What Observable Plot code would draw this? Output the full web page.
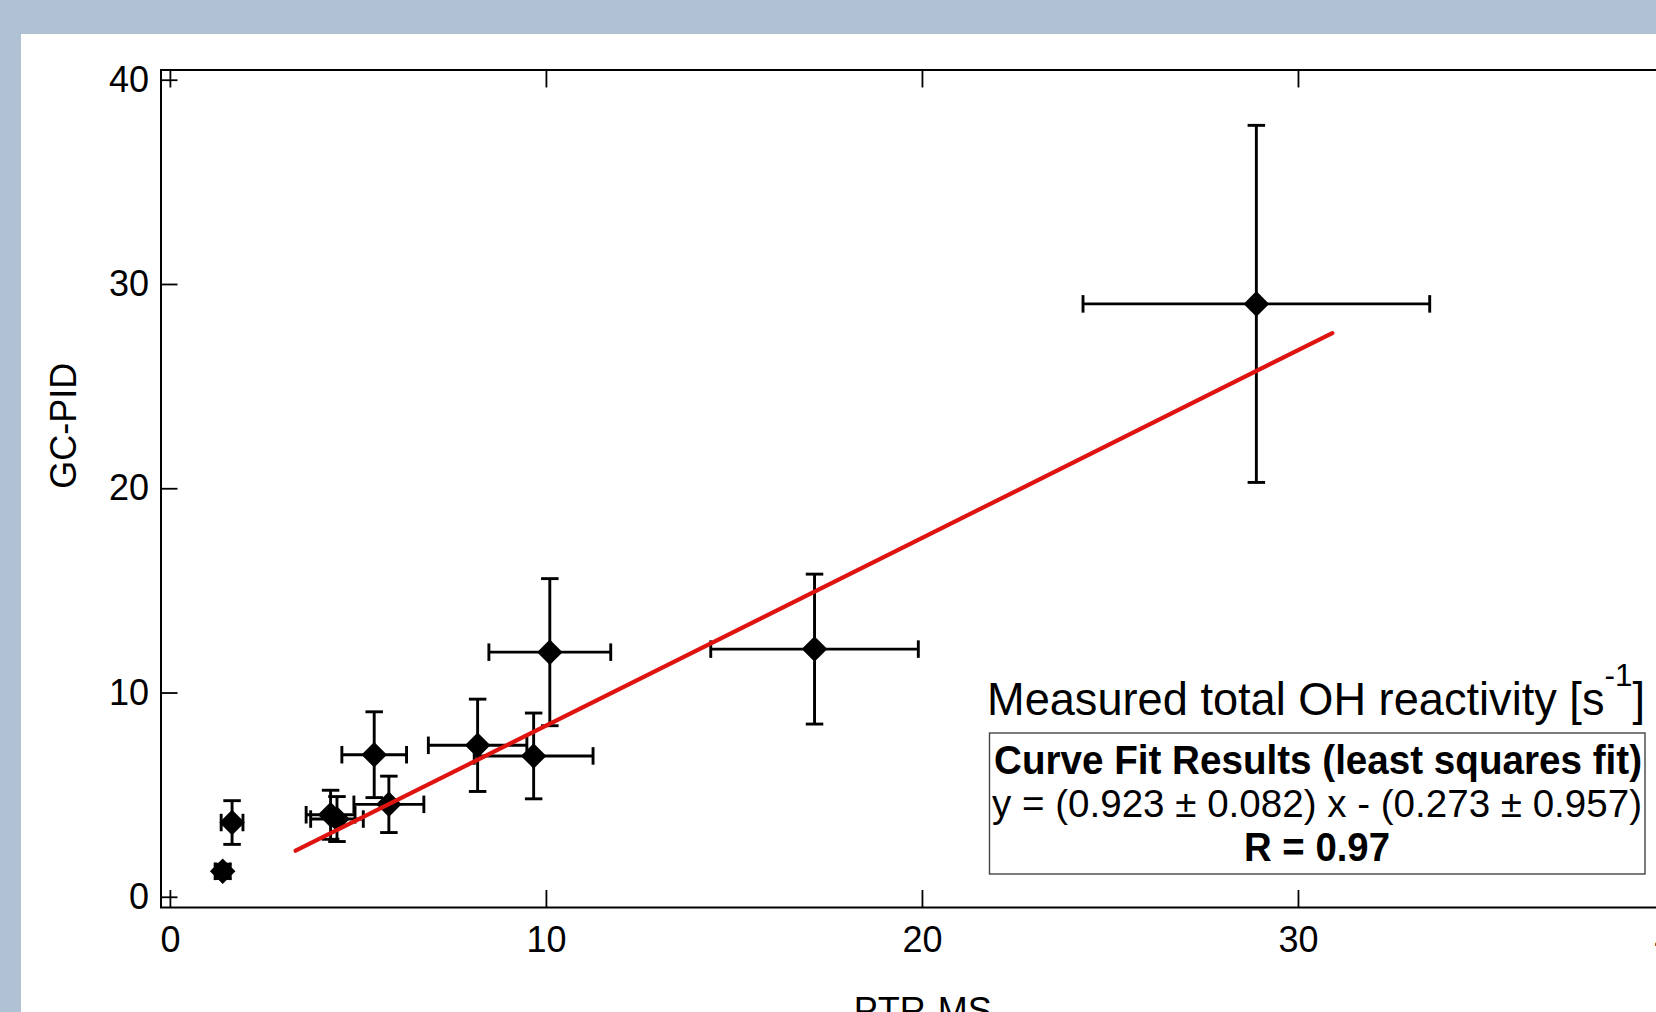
<!DOCTYPE html>
<html><head><meta charset="utf-8">
<script src="https://cdn.jsdelivr.net/npm/d3@7"></script>
<script src="https://cdn.jsdelivr.net/npm/@observablehq/plot@0.6"></script>
<style>
html,body{margin:0;padding:0;width:1656px;height:1012px;overflow:hidden;background:#b0c1d4;}
#panel{position:absolute;left:21px;top:34px;right:0;bottom:0;background:#fff;}
#chart{position:absolute;left:0;top:0;width:1700px;height:1012px;}
</style></head><body>
<div id="panel"></div>
<div id="chart"></div>
<script>
// Data
const ptrms    = [1.39, 1.64, 4.26, 4.43, 5.81, 5.42, 8.17, 9.66, 10.09, 17.13, 28.88];
const gcpid    = [1.27, 3.66, 4.04, 3.83, 4.55, 6.98, 7.44, 6.92, 12.00, 12.15, 29.05];
const ptrmsErr = [0.20, 0.29, 0.65, 0.70, 0.93, 0.86, 1.31, 1.58, 1.62, 2.76, 4.61];
const gcpidErr = [0.35, 1.07, 1.20, 1.10, 1.38, 2.10, 2.26, 2.10, 3.60, 3.67, 8.74];
const fitX = [3.33, 30.9];
const fitY = [2.28, 27.62];
const xTicks = [0, 10, 20, 30, 40];
const yTicks = [0, 10, 20, 30, 40];
const xLabel = "PTR-MS";
const yLabel = "GC-PID";
const annTitle = "Measured total OH reactivity [s";
const annSup = "-1";
const fitHeading = "Curve Fit Results (least squares fit)";
const fitEquation = "y = (0.923 \u00b1 0.082) x - (0.273 \u00b1 0.957)";
const fitR = "R = 0.97";

const pts = ptrms.map((x, i) => ({x, y: gcpid[i], xe: ptrmsErr[i], ye: gcpidErr[i]}));
const fit = fitX.map((x, i) => ({x, y: fitY[i]}));

const capH = 8.75;
const vcap = {draw(ctx) { ctx.moveTo(0, -capH); ctx.lineTo(0, capH); }};
const hcap = {draw(ctx) { ctx.moveTo(-capH, 0); ctx.lineTo(capH, 0); }};
const eb = {stroke: "black", strokeWidth: 2.9};

const FONT = "'Liberation Sans', Arial, Helvetica, sans-serif";

const svg = Plot.plot({
  width: 1700, height: 1012,
  marginLeft: 160.5, marginRight: 26, marginTop: 69.5, marginBottom: 105,
  x: {domain: [-0.25, 40]},
  y: {domain: [-0.5, 40.5]},
  style: {fontFamily: FONT, fontSize: "36px", background: "transparent", maxWidth: "none", overflow: "visible", color: "black"},
  marks: [
    Plot.axisX(xTicks, {anchor: "bottom", tickSize: -17, fill: "none", label: null, strokeWidth: 1.8}),
    Plot.axisX(xTicks, {anchor: "top", tickSize: -17, fill: "none", label: null, strokeWidth: 1.8}),
    Plot.axisX(xTicks, {anchor: "bottom", tickSize: 0, tickPadding: 19, fontSize: 36, label: null}),
    Plot.axisY(yTicks, {anchor: "left", tickSize: -17, fill: "none", label: null, strokeWidth: 1.8}),
    Plot.axisY(yTicks, {anchor: "left", tickSize: 0, tickPadding: 12, fontSize: 36, label: null}),
    Plot.frame({stroke: "black", strokeWidth: 2}),
    Plot.text([yLabel], {text: d => d, frameAnchor: "left", dx: -97, rotate: -90, fontSize: 36, fill: "black"}),
    Plot.text([xLabel], {text: d => d, frameAnchor: "bottom", dx: 5, dy: 90, lineAnchor: "top", fontSize: 36, fill: "black"}),
    // error bars
    Plot.link(pts, {x1: d => d.x - d.xe, x2: d => d.x + d.xe, y1: "y", y2: "y", ...eb}),
    Plot.link(pts, {x1: "x", x2: "x", y1: d => d.y - d.ye, y2: d => d.y + d.ye, ...eb}),
    Plot.dot(pts, {x: d => d.x - d.xe, y: "y", symbol: vcap, fill: "none", ...eb}),
    Plot.dot(pts, {x: d => d.x + d.xe, y: "y", symbol: vcap, fill: "none", ...eb}),
    Plot.dot(pts, {x: "x", y: d => d.y - d.ye, symbol: hcap, fill: "none", ...eb}),
    Plot.dot(pts, {x: "x", y: d => d.y + d.ye, symbol: hcap, fill: "none", ...eb}),
    // markers
    Plot.dot(pts, {x: "x", y: "y", symbol: "diamond2", r: 11.5, fill: "black", stroke: "none"}),
    // fit line
    Plot.line(fit, {x: "x", y: "y", stroke: "#df1410", strokeWidth: 4.2})
  ]
});
document.getElementById("chart").appendChild(svg);

// annotation block (text and box)
const g = d3.select(svg).append("g").attr("font-family", FONT).attr("fill", "black");
const t1 = g.append("text").attr("x", 987).attr("y", 715).attr("font-size", 46)
  .attr("text-anchor", "start")
  .attr("textLength", 658).attr("lengthAdjust", "spacingAndGlyphs");
t1.append("tspan").text(annTitle);
t1.append("tspan").attr("font-size", 32).attr("dy", -29).text(annSup);
t1.append("tspan").attr("font-size", 46).attr("dy", 29).text("]");

g.append("rect").attr("x", 989.5).attr("y", 733).attr("width", 655.5).attr("height", 141)
  .attr("fill", "white").attr("stroke", "#444").attr("stroke-width", 1.4);
g.append("text").attr("x", 1318).attr("y", 774).attr("text-anchor", "middle")
  .attr("font-size", 40).attr("font-weight", "bold")
  .attr("textLength", 648).attr("lengthAdjust", "spacingAndGlyphs").text(fitHeading);
g.append("text").attr("x", 1317).attr("y", 816.5).attr("text-anchor", "middle")
  .attr("font-size", 39)
  .attr("textLength", 650).attr("lengthAdjust", "spacingAndGlyphs").text(fitEquation);
g.append("text").attr("x", 1317).attr("y", 861).attr("text-anchor", "middle")
  .attr("font-size", 40).attr("font-weight", "bold")
  .attr("textLength", 146).attr("lengthAdjust", "spacingAndGlyphs").text(fitR);
</script>
</body></html>
